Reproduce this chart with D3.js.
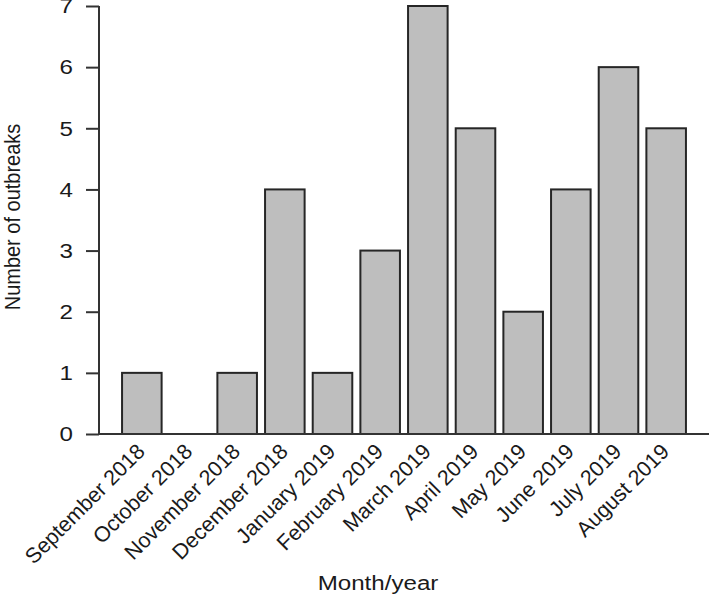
<!DOCTYPE html>
<html><head><meta charset="utf-8">
<script src="https://cdn.jsdelivr.net/npm/d3@7"></script>
<style>
html,body{margin:0;padding:0;background:#fff;}
svg text{font-family:"Liberation Sans",Arial,sans-serif;fill:#1a1a1a;}
</style></head>
<body>
<svg id="chart" width="711" height="597"></svg>
<script>
const months = ["September 2018","October 2018","November 2018","December 2018","January 2019","February 2019","March 2019","April 2019","May 2019","June 2019","July 2019","August 2019"];
const outbreaks = [1,0,1,4,1,3,7,5,2,4,6,5];
const yTicks = [0,1,2,3,4,5,6,7];
const xTitle = "Month/year";
const yTitle = "Number of outbreaks";

const S = 1.15; // horizontal stretch of the reference's text
const svg = d3.select("#chart");
const x = d3.scaleBand().domain(months).range([118,690]).paddingInner(0.17).paddingOuter(0.085);
const y = d3.scaleLinear().domain([0,7]).range([434,6]);
const axisCol = "#333";

// bars
svg.append("g").selectAll("rect").data(months.map((m,i)=>({m,v:outbreaks[i]})).filter(d=>d.v>0))
  .join("rect")
  .attr("x", d=>x(d.m)).attr("width", x.bandwidth())
  .attr("y", d=>y(d.v)).attr("height", d=>y(0)-y(d.v))
  .attr("fill","#bebebe").attr("stroke","#262626").attr("stroke-width",2);

// baseline
svg.append("line").attr("x1",99).attr("x2",709).attr("y1",y(0)).attr("y2",y(0))
  .attr("stroke",axisCol).attr("stroke-width",2);

// y axis
const yAxis = svg.append("g").attr("transform","translate(99,0)")
  .call(d3.axisLeft(y).tickValues(yTicks).tickFormat(d3.format("d")).tickSize(13).tickPadding(13));
yAxis.select(".domain").attr("stroke",axisCol).attr("stroke-width",2).attr("d",`M0,${y(7)}V${y(0)}`);
yAxis.selectAll(".tick line").attr("stroke",axisCol).attr("stroke-width",2);
yAxis.selectAll(".tick text").attr("font-size",21).attr("fill","#1a1a1a")
  .attr("font-family","Liberation Sans, Arial, sans-serif")
  .each(function(){
    const t=d3.select(this); const tx=+t.attr("x");
    t.attr("x",null).attr("transform",`translate(${tx},0) scale(${S},1)`);
  });

// x tick labels
svg.append("g").selectAll("text").data(months).join("text")
  .attr("transform", d=>`translate(${x(d)+x.bandwidth()/2-1},${447.5}) rotate(-45)`)
  .attr("text-anchor","end").attr("dy","0.35em")
  .attr("font-size",21.5).text(d=>d);

// titles
svg.append("text").attr("transform",`translate(378,590) scale(${S},1)`)
  .attr("text-anchor","middle").attr("font-size",21).text(xTitle);
svg.append("text").attr("transform",`translate(20,${(y(0)+y(7))/2 - 3}) scale(1.08,1) rotate(-90)`)
  .attr("text-anchor","middle").attr("font-size",20).text(yTitle);
</script>
</body></html>
